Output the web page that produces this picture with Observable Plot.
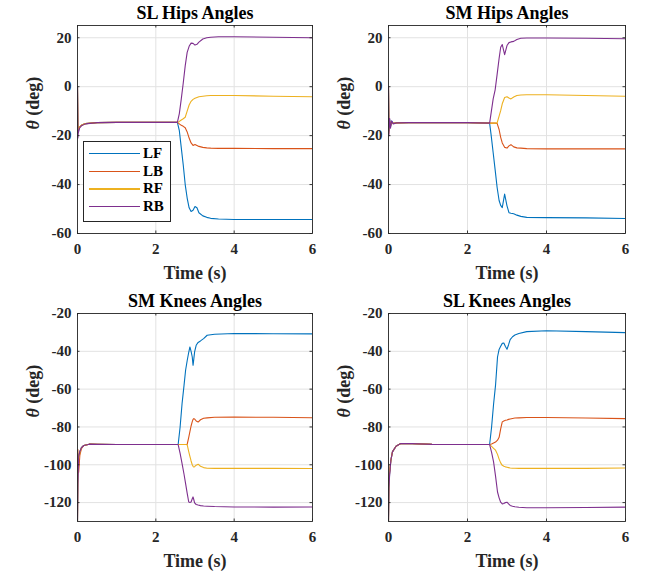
<!DOCTYPE html>
<html><head><meta charset="utf-8">
<script src="https://cdn.jsdelivr.net/npm/d3@7"></script>
<script src="https://cdn.jsdelivr.net/npm/@observablehq/plot@0.6"></script>
<style>
body{margin:0;background:#fff;}
#wrap{position:relative;width:648px;height:573px;overflow:hidden;background:#fff;font-family:"Times New Roman","Liberation Serif",serif;}
.panel{position:absolute;}
.panel svg{background:transparent;}
.panel svg text{font-family:"Times New Roman","Liberation Serif",serif;}
#legend{position:absolute;left:83px;top:141px;width:86px;height:76px;border:1px solid #262626;background:#fff;padding-top:3px;box-sizing:content-box;}
#legend .row{display:flex;align-items:center;height:17.6px;}
#legend .sw{display:block;width:51px;height:1.4px;margin-left:5px;}
#legend .lb{margin-left:3px;font-size:15px;font-weight:bold;color:#000;font-family:"Times New Roman","Liberation Serif",serif;}
</style></head><body><div id="wrap"></div><script>
const SERIES = ["LF", "LB", "RF", "RB"];
const COLORS = ["#0072BD", "#D95319", "#EDB120", "#7E2F8E"];
const X_TICKS = [0, 2, 4, 6];
const HIP_TICKS = [-60, -40, -20, 0, 20];
const KNEE_TICKS = [-120, -100, -80, -60, -40, -20];

// SL Hips Angles
const slHipsTime = [0, 0.01, 0.02, 0.05, 0.1, 0.2, 0.5, 1, 2, 2.55, 2.6, 2.65, 2.7, 2.75, 2.8, 2.85, 2.9, 2.95, 3.0, 3.05, 3.1, 3.2, 3.3, 3.4, 3.6, 3.8, 4, 5, 6];
const slHipsLF = [0, -17, -18.5, -16.5, -15.8, -15.1, -14.7, -14.6, -14.6, -14.6, -18, -25, -32, -40, -45.5, -49.5, -51, -50.5, -49, -49.5, -51.5, -52.8, -53.4, -53.8, -54.1, -54.2, -54.3, -54.3, -54.3];
const slHipsLB = [0, -16, -18, -16.5, -15.8, -15.1, -14.7, -14.6, -14.6, -14.6, -15.2, -15.8, -16.2, -16.8, -18.5, -21, -23, -24, -23.6, -24, -24.4, -24.8, -25, -25.1, -25.2, -25.2, -25.2, -25.3, -25.3];
const slHipsRF = [0, -18, -18, -16.5, -15.8, -15.1, -14.7, -14.6, -14.6, -14.6, -14.2, -13.6, -13.1, -12.5, -10, -7.5, -6, -5.2, -4.7, -4.4, -4.1, -3.9, -3.7, -3.6, -3.6, -3.6, -3.6, -3.9, -4.1];
const slHipsRB = [0, -21, -19, -17, -16, -15.2, -14.7, -14.6, -14.6, -14.6, -11, -5, 1.5, 8.5, 14, 16.5, 17.8, 17.7, 17, 17.3, 18.2, 19.5, 20, 20.2, 20.4, 20.4, 20.4, 20.2, 20.0];

// SM Hips Angles
const smHipsTime = [0, 0.01, 0.02, 0.03, 0.05, 0.08, 0.12, 0.2, 0.5, 2, 2.56, 2.6, 2.65, 2.7, 2.75, 2.8, 2.84, 2.88, 2.94, 3.0, 3.05, 3.1, 3.17, 3.25, 3.35, 3.5, 4, 5, 6];
const smHipsLF = [0, -18, -15, -13.5, -16.5, -14, -15, -14.8, -14.7, -14.7, -14.9, -20, -27, -34, -41.2, -46.5, -48.5, -49.4, -43.9, -48.7, -51.5, -51.7, -51.9, -52.5, -53, -53.4, -53.5, -53.6, -53.9];
const smHipsLB = [0, -17, -16, -14, -16, -14.5, -15, -14.8, -14.7, -14.7, -14.9, -14.9, -14.9, -14.9, -15, -17.5, -20.7, -23, -24.8, -25.1, -24.2, -23.7, -24.6, -25, -25.1, -25.3, -25.4, -25.4, -25.4];
const smHipsRF = [0, -19, -17, -14, -16, -14.5, -15, -14.8, -14.7, -14.7, -14.9, -14.9, -14.9, -14.9, -14.8, -12, -9.8, -7, -4.4, -4.1, -4.6, -5, -4.2, -3.6, -3.4, -3.3, -3.3, -3.6, -3.9];
const smHipsRB = [0, -20, -16, -13, -17, -14, -15.2, -14.8, -14.7, -14.7, -14.9, -10.5, -5, -1.3, 5, 11.5, 16.1, 17.2, 13.1, 16.8, 18, 18.3, 18.5, 19.3, 19.8, 19.9, 19.9, 19.8, 19.6];

// SM Knees Angles
const smKneesTime = [0, 0.01, 0.03, 0.06, 0.1, 0.16, 0.3, 0.5, 1, 2, 2.57, 2.62, 2.67, 2.72, 2.76, 2.8, 2.84, 2.87, 2.9, 2.93, 2.95, 2.97, 2.99, 3.03, 3.08, 3.14, 3.22, 3.31, 3.5, 4, 5, 6];
const smKneesLF = [-130, -100, -95, -93, -91, -89.8, -89.1, -89.2, -89.3, -89.3, -89.3, -80, -67.6, -58, -50, -45, -40.5, -37.7, -40, -43, -47.4, -44, -40.3, -36.8, -35.3, -34.5, -33.3, -31.5, -31, -30.6, -30.7, -30.8];
const smKneesLB = [-130, -92, -104, -95, -91.5, -89.8, -89.1, -89.2, -89.3, -89.3, -89.3, -89.3, -89.3, -89.3, -89.3, -89.2, -85.5, -82.5, -79.5, -77.2, -76, -75.6, -75.8, -76.8, -77.4, -76.2, -75.4, -75.2, -74.9, -74.8, -74.9, -75.1];
const smKneesRF = [-130, -104, -97, -93.5, -91, -89.8, -89.1, -89.2, -89.3, -89.3, -89.3, -89.3, -89.3, -89.3, -89.3, -89.4, -93, -95.5, -98, -100, -100.8, -101.2, -101, -100.2, -99.7, -100.8, -101.5, -101.8, -101.9, -101.9, -101.9, -102];
const smKneesRB = [-130, -110, -96, -93, -91, -89.8, -89.1, -89.2, -89.3, -89.3, -89.3, -94, -99.4, -105, -110, -115, -119.7, -119.9, -119.7, -118, -117, -118.5, -120.2, -121, -121.3, -121.6, -121.8, -121.9, -122.1, -122.3, -122.4, -122.3];

// SL Knees Angles
const slKneesTime = [0, 0.01, 0.03, 0.06, 0.1, 0.19, 0.31, 0.6, 1.1, 2, 2.56, 2.61, 2.66, 2.71, 2.76, 2.8, 2.84, 2.88, 2.92, 2.96, 3.0, 3.04, 3.08, 3.14, 3.2, 3.3, 3.5, 4, 5, 6];
const slKneesLF = [-130, -112, -104, -97.6, -93.2, -90.2, -88.8, -88.8, -89.2, -89.3, -89.3, -80, -68, -57.9, -43, -39, -37.3, -35.8, -35.6, -37.5, -38.9, -36.5, -33.8, -32.3, -31.4, -30.6, -29.6, -29.1, -29.6, -30.1];
const slKneesLB = [-130, -108, -104, -97.6, -93.2, -90.2, -88.8, -88.8, -89.2, -89.3, -89.3, -89, -88.5, -88, -87, -85.5, -81, -77.3, -76.8, -76.5, -76.3, -76, -75.8, -75.5, -75.3, -75.2, -75, -75, -75.3, -75.6];
const slKneesRF = [-130, -105, -103, -97.6, -93.2, -90.2, -88.8, -88.8, -89.2, -89.3, -89.3, -90.3, -91.3, -92.3, -94.5, -97, -99, -100.3, -100.8, -101.1, -101.3, -101.5, -101.7, -101.8, -101.8, -101.9, -101.9, -101.9, -101.9, -101.7];
const slKneesRB = [-130, -112, -105, -97.6, -93.2, -90.2, -88.8, -88.8, -89.2, -89.3, -89.3, -93.5, -98.5, -106, -114.4, -117.5, -119.8, -120.7, -120.5, -120, -119.8, -120.7, -121.5, -121.9, -122.2, -122.5, -122.7, -122.7, -122.6, -122.4];

const FONT = '"Times New Roman", "Liberation Serif", serif';
const H = 285, MT = 25, MB = 52, ML = 77;
const FRAME_H = H - MT - MB;

function panel(title, time, series, yDomain, yTicks, left, top, width, mr) {
  const rows = time.flatMap((t, i) => SERIES.map((s, k) => ({t, v: series[k][i], s})));
  const frameW = width - ML - mr;
  const TL = 2.5;
  const p = Plot.plot({
    width, height: H, marginLeft: ML, marginRight: mr, marginTop: MT, marginBottom: MB,
    style: {fontFamily: FONT, fontSize: "15px", fontWeight: "bold", color: "#262626", background: "transparent", overflow: "visible"},
    x: {domain: [0, 6]},
    y: {domain: yDomain},
    color: {domain: SERIES, range: COLORS},
    marks: [
      Plot.gridX({ticks: X_TICKS, stroke: "#e2e2e2", strokeOpacity: 1, strokeWidth: 1}),
      Plot.gridY({ticks: yTicks, stroke: "#e2e2e2", strokeOpacity: 1, strokeWidth: 1}),
      Plot.line(rows, {x: "t", y: "v", z: "s", stroke: "s", strokeWidth: 1.1, clip: true}),
      Plot.frame({stroke: "#262626", strokeWidth: 0.9}),
      Plot.ruleX(X_TICKS, {x: d => d, insetTop: FRAME_H - TL, stroke: "#262626", strokeWidth: 0.9}),
      Plot.ruleX(X_TICKS, {x: d => d, insetBottom: FRAME_H - TL, stroke: "#262626", strokeWidth: 0.9}),
      Plot.ruleY(yTicks, {y: d => d, insetRight: frameW - TL, stroke: "#262626", strokeWidth: 0.9}),
      Plot.ruleY(yTicks, {y: d => d, insetLeft: frameW - TL, stroke: "#262626", strokeWidth: 0.9}),
      Plot.axisX({ticks: X_TICKS, tickSize: 0, tickPadding: 10, tickFormat: d => String(d), label: null, fontFamily: FONT, fontSize: 15, fontWeight: "bold"}),
      Plot.axisY({ticks: yTicks, tickSize: 0, tickPadding: 6, tickFormat: d => String(d), label: null, fontFamily: FONT, fontSize: 15, fontWeight: "bold"}),
      Plot.text([title], {text: d => d, frameAnchor: "top", lineAnchor: "middle", dy: -12, fontSize: 18, fontWeight: "bold", fontFamily: FONT, fill: "black"}),
      Plot.text(["Time (s)"], {text: d => d, frameAnchor: "bottom", lineAnchor: "middle", dy: 40, fontSize: 18, fontFamily: FONT, fill: "#262626"}),
      Plot.text(["θ (deg)"], {text: d => d, frameAnchor: "left", lineAnchor: "middle", dx: -44, rotate: -90, fontSize: 18, fontFamily: FONT, fill: "#262626"})
    ]
  });
  p.querySelectorAll("text").forEach(t => {
    if (t.textContent === "θ (deg)") {
      t.innerHTML = '<tspan font-style="italic">θ</tspan> (deg)';
    }
  });
  const div = document.createElement("div");
  div.className = "panel";
  div.style.left = left + "px";
  div.style.top = top + "px";
  div.appendChild(p);
  document.getElementById("wrap").appendChild(div);
}

panel("SL Hips Angles", slHipsTime, [slHipsLF, slHipsLB, slHipsRF, slHipsRB], [-60, 25], HIP_TICKS, 0, 0, 324, 12);
panel("SM Hips Angles", smHipsTime, [smHipsLF, smHipsLB, smHipsRF, smHipsRB], [-60, 25], HIP_TICKS, 311, 0, 324, 10);
panel("SM Knees Angles", smKneesTime, [smKneesLF, smKneesLB, smKneesRF, smKneesRB], [-130, -20], KNEE_TICKS, 0, 288, 324, 12);
panel("SL Knees Angles", slKneesTime, [slKneesLF, slKneesLB, slKneesRF, slKneesRB], [-130, -20], KNEE_TICKS, 311, 288, 324, 10);

// legend (top-left panel)
const lg = document.createElement("div");
lg.id = "legend";
SERIES.forEach((s, i) => {
  const r = document.createElement("div");
  r.className = "row";
  r.innerHTML = `<span class="sw" style="background:${COLORS[i]}"></span><span class="lb">${s}</span>`;
  lg.appendChild(r);
});
document.getElementById("wrap").appendChild(lg);
</script></body></html>
